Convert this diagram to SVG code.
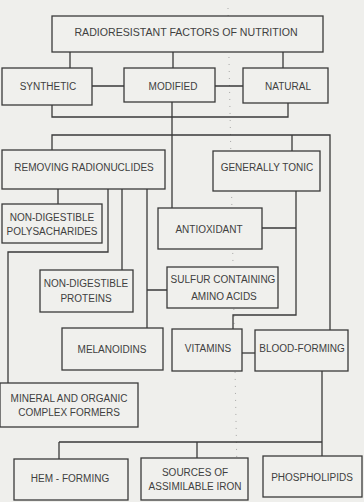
<svg xmlns="http://www.w3.org/2000/svg" width="364" height="502" viewBox="0 0 364 502">
<style>
.bg{fill:#efefec}
.box{fill:#f0f0ed;stroke:#3a3a3a;stroke-width:1.3}
.ln{fill:none;stroke:#3a3a3a;stroke-width:1.3}
.t{font-family:"Liberation Sans",Arial,sans-serif;font-size:10px;fill:#404040;text-anchor:middle}
.dot{fill:none;stroke:#777;stroke-width:1;stroke-dasharray:1 6;opacity:0.6}
</style>
<rect class="bg" x="0" y="0" width="364" height="502"/>
<line class="dot" x1="228" y1="8" x2="237" y2="472"/>
<g id="connectors">
<path class="ln" d="M70 52V68M173 52V68M283 52V68"/>
<path class="ln" d="M92 86H124M215 86H243"/>
<path class="ln" d="M52 105V117H288V103"/>
<path class="ln" d="M172 102V208"/>
<path class="ln" d="M52 150V135H330V330M292 135V151"/>
<path class="ln" d="M58 189V204"/>
<path class="ln" d="M108 189V252H8V383"/>
<path class="ln" d="M122 189V270"/>
<path class="ln" d="M147 189V328M147 290H167"/>
<path class="ln" d="M296 191V315H233V329M262 228H296"/>
<path class="ln" d="M242 353H255"/>
<path class="ln" d="M322 371V456M59 442H322M59 442V459M197 442V458"/>
</g>
<g id="title"><rect class="box" x="52" y="16" width="271" height="36"/><text class="t" x="186" y="36" style="font-size:10.6px">RADIORESISTANT FACTORS OF NUTRITION</text></g>
<g id="synthetic"><rect class="box" x="2" y="68" width="90" height="37"/><text class="t" x="48" y="90">SYNTHETIC</text></g>
<g id="modified"><rect class="box" x="124" y="68" width="91" height="34"/><text class="t" x="173" y="90">MODIFIED</text></g>
<g id="natural"><rect class="box" x="243" y="68" width="85" height="35"/><text class="t" x="288" y="90">NATURAL</text></g>
<g id="removing"><rect class="box" x="2" y="150" width="163" height="39"/><text class="t" x="84" y="171">REMOVING RADIONUCLIDES</text></g>
<g id="tonic"><rect class="box" x="213" y="151" width="107" height="40"/><text class="t" x="267" y="171">GENERALLY TONIC</text></g>
<g id="polysach"><rect class="box" x="2" y="204" width="100" height="39"/><text class="t" x="52" y="221">NON-DIGESTIBLE</text><text class="t" x="52" y="235">POLYSACHARIDES</text></g>
<g id="antioxidant"><rect class="box" x="158" y="208" width="104" height="41"/><text class="t" x="209" y="233">ANTIOXIDANT</text></g>
<g id="proteins"><rect class="box" x="40" y="270" width="93" height="42"/><text class="t" x="86" y="287">NON-DIGESTIBLE</text><text class="t" x="86" y="302">PROTEINS</text></g>
<g id="sulfur"><rect class="box" x="167" y="267" width="111" height="41"/><text class="t" x="223" y="283">SULFUR CONTAINING</text><text class="t" x="224" y="300">AMINO ACIDS</text></g>
<g id="melanoidins"><rect class="box" x="62" y="328" width="101" height="42"/><text class="t" x="112" y="353">MELANOIDINS</text></g>
<g id="vitamins"><rect class="box" x="172" y="329" width="70" height="42"/><text class="t" x="208" y="352">VITAMINS</text></g>
<g id="blood"><rect class="box" x="255" y="330" width="93" height="41"/><text class="t" x="302" y="352">BLOOD-FORMING</text></g>
<g id="mineral"><rect class="box" x="0" y="383" width="138" height="44"/><text class="t" x="69" y="402">MINERAL AND ORGANIC</text><text class="t" x="69" y="416">COMPLEX FORMERS</text></g>
<g id="hem"><rect class="box" x="14" y="459" width="114" height="41"/><text class="t" x="70" y="482">HEM - FORMING</text></g>
<g id="iron"><rect class="box" x="141" y="458" width="107" height="42"/><text class="t" x="195" y="476">SOURCES OF</text><text class="t" x="195" y="490">ASSIMILABLE IRON</text></g>
<g id="phospho"><rect class="box" x="263" y="456" width="99" height="41"/><text class="t" x="312" y="481">PHOSPHOLIPIDS</text></g>
</svg>
